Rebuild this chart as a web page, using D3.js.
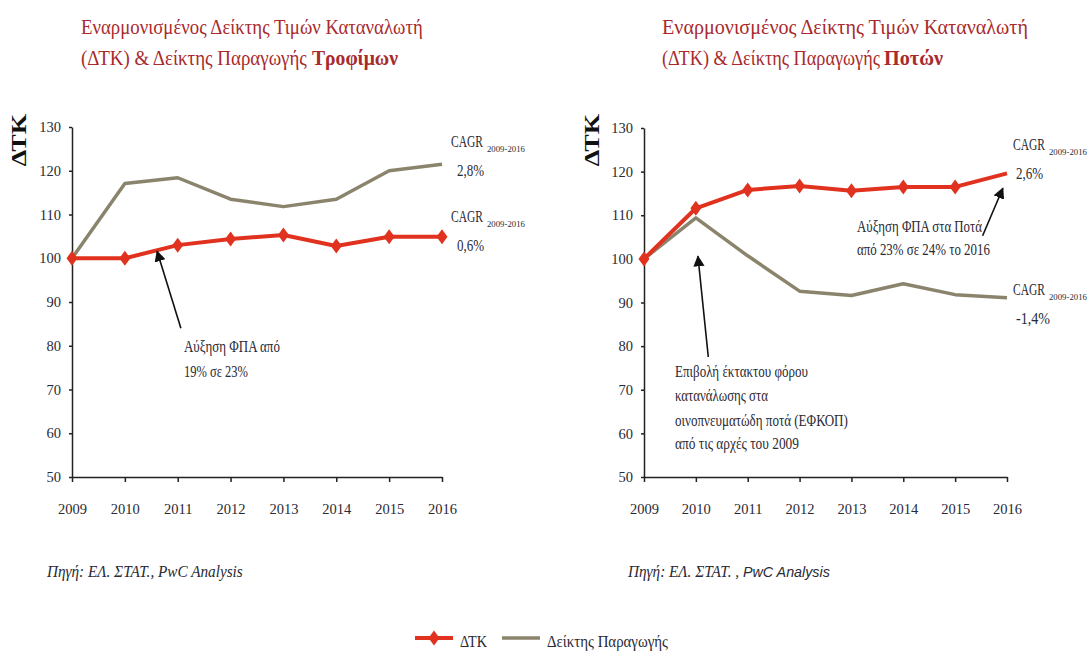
<!DOCTYPE html>
<html>
<head>
<meta charset="utf-8">
<script src="https://cdn.jsdelivr.net/npm/d3@7"></script>
<style>
  body { margin: 0; background: #fff; }
  svg { display: block; }
  .axis text { font-family: "Liberation Serif", serif; font-size: 14.5px; fill: #2a2a35; }
  .axis path, .axis line { stroke: #222; stroke-width: 1.5; }
</style>
</head>
<body>
<svg width="1090" height="652"></svg>
<script>
// δεδομένα (εκτίμηση από το γράφημα)
var years = [2009, 2010, 2011, 2012, 2013, 2014, 2015, 2016];
var yTicks = [50, 60, 70, 80, 90, 100, 110, 120, 130];
var foodCpi = [100, 100, 103.0, 104.4, 105.3, 102.8, 104.9, 104.9];
var foodProd = [100, 117.1, 118.4, 113.5, 111.8, 113.5, 120.0, 121.5];
var drinkCpi = [100, 111.6, 115.8, 116.7, 115.6, 116.5, 116.5, 119.6];
var drinkProd = [100, 109.4, 100.7, 92.6, 91.6, 94.3, 91.8, 91.1];
var seriesNames = ["ΔΤΚ", "Δείκτης Παραγωγής"];
var titleLine1 = "Εναρμονισμένος Δείκτης Τιμών Καταναλωτή";
var titleLine2 = "(ΔΤΚ) & Δείκτης Παραγωγής";
var titleBold = ["Τροφίμων", "Ποτών"];
var cagrProd = ["2,8%", "-1,4%"];
var cagrCpi = ["0,6%", "2,6%"];

var red = "#e0321f", olive = "#8b846d", titleRed = "#a82a2c", ink = "#2a2a35";
var serif = "'Liberation Serif', serif";

var svg = d3.select("svg");

// βοηθητικό για κείμενο: αν δοθεί width, στενεύει οριζόντια με scale
function label(sel, x, y, str, o) {
  o = o || {};
  var t = sel.append("text")
    .attr("font-family", o.family || serif)
    .attr("font-size", o.size || 14)
    .attr("fill", o.fill || ink)
    .text(str);
  if (o.weight) t.attr("font-weight", o.weight);
  if (o.style) t.attr("font-style", o.style);
  var sx = 1;
  if (o.width) sx = o.width / t.node().getComputedTextLength();
  t.attr("transform", "translate(" + x + "," + y + ") scale(" + sx + ",1)");
  return t;
}

function diamond(sel, cx, cy, w, h, col) {
  sel.append("path")
    .attr("d", "M" + cx + "," + (cy - h) + "L" + (cx + w) + "," + cy + "L" + cx + "," + (cy + h) + "L" + (cx - w) + "," + cy + "Z")
    .attr("fill", col);
}

svg.append("defs").append("marker")
  .attr("id", "arr")
  .attr("viewBox", "0 0 10 10")
  .attr("refX", 9).attr("refY", 5)
  .attr("markerWidth", 7).attr("markerHeight", 7)
  .attr("orient", "auto-start-reverse")
  .append("path").attr("d", "M0,0L10,5L0,10Z").attr("fill", "#111");

var panels = [
  { x0: 72, x1: 442, top: 127, bot: 477, cpi: foodCpi, prod: foodProd, cpiMarks: 8,
    tx: 81, titleW: [342, 226], boldX: 312, boldW: 86, yl: 19,
    cagrX: 451, cagrY: [147, 222], pctX: 457, pct: [cagrProd[0], cagrCpi[0]],
    arrows: [[[2011.06, 84.0], [2010.61, 101.6]]],
    notes: [[184, 352, "Αύξηση ΦΠΑ από", 96], [184, 377, "19% σε 23%", 64]],
    src: [47, "Πηγή: ΕΛ. ΣΤΑΤ., PwC Analysis", 196] },
  { x0: 644, x1: 1007, top: 128, bot: 477, cpi: drinkCpi, prod: drinkProd, cpiMarks: 7,
    tx: 662, titleW: [366, 218], boldX: 884, boldW: 59, yl: 592,
    cagrX: 1013, cagrY: [150, 295], pctX: 1016, pct: [cagrCpi[1], cagrProd[1]],
    arrows: [[[2010.24, 77.5], [2010.04, 100.6]], [[2015.53, 105.3], [2015.92, 116.2]]],
    notes: [[857, 232, "Αύξηση ΦΠΑ στα Ποτά", 125], [857, 255, "από 23% σε 24% το 2016", 133],
            [675, 377, "Επιβολή έκτακτου φόρου", 133], [675, 401, "κατανάλωσης στα", 93],
            [675, 426, "οινοπνευματώδη ποτά (ΕΦΚΟΠ)", 173], [675, 449, "από τις αρχές του 2009", 124]],
    src: [628, "Πηγή: ΕΛ. ΣΤΑΤ. , ", 202] }
];

panels.forEach(function(p, i) {
  var x = d3.scaleLinear().domain([2009, 2016]).range([p.x0, p.x1]);
  var y = d3.scaleLinear().domain([50, 130]).range([p.bot, p.top]);
  var g = svg.append("g");

  // τίτλος
  label(g, p.tx, 34, titleLine1, { size: 22, fill: titleRed, width: p.titleW[0] });
  label(g, p.tx, 65, titleLine2, { size: 22, fill: titleRed, width: p.titleW[1] });
  label(g, p.boldX, 65, titleBold[i], { size: 22, fill: titleRed, weight: "bold", width: p.boldW });

  // άξονες
  g.append("g").attr("class", "axis")
    .attr("transform", "translate(" + p.x0 + ",0)")
    .call(d3.axisLeft(y).tickValues(yTicks).tickSize(3).tickSizeOuter(0).tickPadding(8));
  g.append("g").attr("class", "axis")
    .attr("transform", "translate(0," + p.bot + ")")
    .call(d3.axisBottom(x).tickValues(years).tickFormat(d3.format("d")).tickSize(5).tickSizeOuter(0).tickPadding(22));

  g.append("text")
    .attr("font-family", serif).attr("font-size", 21).attr("font-weight", "bold").attr("fill", "#111")
    .attr("text-anchor", "middle")
    .attr("transform", "translate(" + (p.yl + 7) + ",140) rotate(-90) scale(1.25,1)")
    .text("ΔΤΚ");

  var line = d3.line().x(function(d, j) { return x(years[j]); }).y(function(d) { return y(d); });

  g.append("path").datum(p.prod)
    .attr("d", line).attr("fill", "none")
    .attr("stroke", olive).attr("stroke-width", 3.5).attr("stroke-linejoin", "round");
  g.append("path").datum(p.cpi)
    .attr("d", line).attr("fill", "none")
    .attr("stroke", red).attr("stroke-width", 4).attr("stroke-linejoin", "round");
  p.cpi.slice(0, p.cpiMarks).forEach(function(v, j) {
    diamond(g, x(years[j]), y(v), 5.5, 7.5, red);
  });

  // CAGR
  p.cagrY.forEach(function(cy, k) {
    label(g, p.cagrX, cy, "CAGR", { size: 17, width: 32 });
    label(g, p.cagrX + 36, cy + 5, "2009-2016", { size: 7.5, width: 38 });
    label(g, p.pctX, cy + 29, p.pct[k], { size: 16, width: p.pct[k].length * 6.8 });
  });

  // βέλη και σημειώσεις
  p.arrows.forEach(function(a) {
    g.append("line")
      .attr("x1", x(a[0][0])).attr("y1", y(a[0][1]))
      .attr("x2", x(a[1][0])).attr("y2", y(a[1][1]))
      .attr("stroke", "#111").attr("stroke-width", 1.6)
      .attr("marker-end", "url(#arr)");
  });
  p.notes.forEach(function(n) {
    label(g, n[0], n[1], n[2], { size: 16, width: n[3] });
  });

  // πηγή
  var s = label(g, p.src[0], 577, p.src[1], { size: 16, style: "italic" });
  if (i == 1) s.append("tspan").attr("font-family", "'Liberation Sans', sans-serif").attr("font-size", 15).text("PwC Analysis");
  s.attr("transform", "translate(" + p.src[0] + ",577) scale(" + (p.src[2] / s.node().getComputedTextLength()) + ",1)");
});

// υπόμνημα
var lg = svg.append("g");
lg.append("line").attr("x1", 415).attr("x2", 453).attr("y1", 638).attr("y2", 638)
  .attr("stroke", red).attr("stroke-width", 4);
diamond(lg, 434, 638, 5.5, 7.5, red);
label(lg, 460, 647, seriesNames[0], { size: 16, width: 27 });
lg.append("line").attr("x1", 502).attr("x2", 540).attr("y1", 638).attr("y2", 638)
  .attr("stroke", olive).attr("stroke-width", 3.5);
label(lg, 547, 647, seriesNames[1], { size: 16, width: 121 });
</script>
</body>
</html>
